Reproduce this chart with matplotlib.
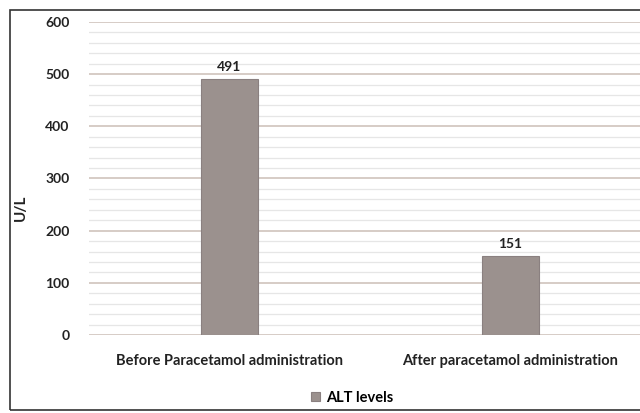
import matplotlib.pyplot as plt
from matplotlib.patches import Rectangle
from matplotlib.ticker import MultipleLocator

# chart data
categories = ["Before Paracetamol administration", "After paracetamol administration"]
alt_values = [491, 151]
series_name = "ALT levels"

plt.rcParams['font.family'] = ['Lato', 'DejaVu Sans']

fig = plt.figure(figsize=(6.4, 4.13), dpi=100)
ax = fig.add_axes([89 / 640, 78 / 413, 562 / 640, 313 / 413])

x = range(len(categories))
bars = ax.bar(x, alt_values, width=0.2, color='#9b918e', edgecolor='#8a8080',
              linewidth=0.8, label=series_name, zorder=3)

for b, v in zip(bars, alt_values):
    ax.text(b.get_x() + b.get_width() / 2, v + 12, str(v), ha='center', va='bottom',
            fontsize=10, fontweight='bold', color='#222222')

ax.set_xlim(-0.5, 1.5)
ax.set_ylim(0, 600)
ax.yaxis.set_major_locator(MultipleLocator(100))
ax.yaxis.set_minor_locator(MultipleLocator(20))
ax.grid(axis='y', which='major', color='#d3c8c2', linewidth=1.3, zorder=0)
ax.grid(axis='y', which='minor', color='#e6e6e6', linewidth=0.9, zorder=0)
ax.tick_params(axis='both', which='both', length=0)
ax.tick_params(axis='y', pad=14, labelsize=10)
ax.tick_params(axis='x', pad=14, labelsize=10.5)
for lab in ax.get_yticklabels() + ax.get_xticklabels():
    lab.set_fontweight('bold')
    lab.set_color('#222222')
ax.set_xticks(list(x))
ax.set_xticklabels(categories)
for s in ax.spines.values():
    s.set_visible(False)
ax.set_ylabel("U/L", fontsize=11, fontweight='bold', color='#222222')
ax.yaxis.set_label_coords(-0.108, 0.405)

leg = fig.legend(handles=[bars], labels=[series_name], loc='center',
                 bbox_to_anchor=(352 / 640, 1 - 398 / 413), frameon=False,
                 handlelength=0.6, handleheight=0.6, handletextpad=0.4,
                 prop={'size': 10.5, 'weight': 'bold'})

# outer chart border
fig.patches.append(Rectangle((10 / 640, 3 / 413), 640, 1 - 13 / 413,
                             transform=fig.transFigure, fill=False,
                             edgecolor='#333333', linewidth=1.2))

fig.savefig("out.png", dpi=100)
